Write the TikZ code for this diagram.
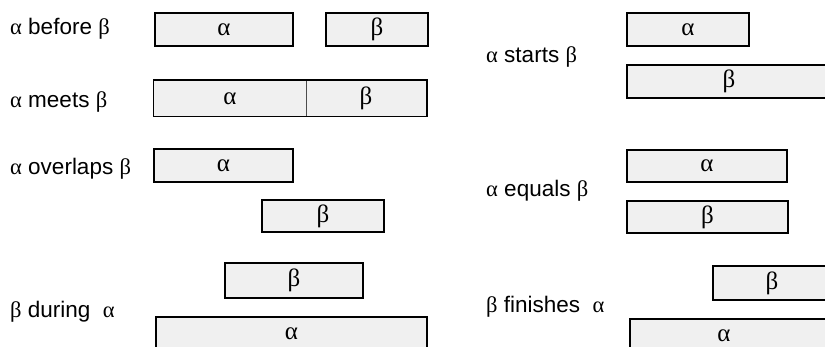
\documentclass[tikz,border=0pt]{standalone}
\usepackage{fontspec}
\setmainfont{Liberation Sans}
\newfontfamily\greekfont{Liberation Serif}
\usetikzlibrary{positioning}

\definecolor{boxfill}{gray}{0.94}
\newcommand{\al}{{\greekfont α}}
\newcommand{\be}{{\greekfont β}}

\tikzset{
  interval/.style={draw=black,fill=boxfill,line width=1.5pt,inner sep=0pt,
    minimum height=33pt,font=\greekfont\fontsize{25}{25}\selectfont},
  relation/.style={anchor=base west,inner sep=0pt,font=\fontsize{22.5}{27}\selectfont}
}

\begin{document}
\begin{tikzpicture}[x=1pt,y=-1pt]
\useasboundingbox (0,0) rectangle (825,347);

\node[relation] (before) at (10,35) {\al{} before \be};
\node[interval,minimum width=138pt] (beforeA) at (224,29.5) {α};
\node[interval,minimum width=102pt] (beforeB) at (377,29.5) {β};

\node[relation] (meets) at (10,108) {\al{} meets \be};
\node[interval,draw=none,minimum width=152pt,minimum height=35pt] (meetsA) at (230,98.5) {α};
\node[interval,draw=none,minimum width=120pt,minimum height=35pt] (meetsB) at (366,98.5) {β};
\draw[line width=0.8pt,black!70] (meetsA.north east) -- (meetsA.south east);
\draw[line width=1.5pt] (meetsA.north west) rectangle (meetsB.south east);

\node[relation] (overlaps) at (10,175) {\al{} overlaps \be};
\node[interval,minimum width=139pt] (overlapsA) at (223.5,165.5) {α};
\node[interval,minimum width=122pt,minimum height=32pt] (overlapsB) at (323,216) {β};

\node[relation] (during) at (10,318) {\be{} during\ \ \al};
\node[interval,minimum width=138pt,minimum height=35pt] (duringB) at (294,280.5) {β};
\node[interval,minimum width=271pt] (duringA) at (291.5,333.5) {α};

\node[relation] (starts) at (486,63) {\al{} starts \be};
\node[interval,minimum width=122pt] (startsA) at (688,29.5) {α};
\node[interval,minimum width=204pt] (startsB) at (729,81.5) {β};

\node[relation] (equals) at (486,197) {\al{} equals \be};
\node[interval,minimum width=160pt,minimum height=32pt] (equalsA) at (707,166) {α};
\node[interval,minimum width=161pt,minimum height=32pt] (equalsB) at (707.5,217) {β};

\node[relation] (finishes) at (486,313) {\be{} finishes\ \ \al};
\node[interval,minimum width=118pt,minimum height=34pt] (finishesB) at (772,283) {β};
\node[interval,minimum width=220pt] (finishesA) at (740,335.5) {};
\node[font=\greekfont\fontsize{25}{25}\selectfont,inner sep=0pt] (finishesAtext) at (724,335.5) {α};
\end{tikzpicture}
\end{document}
